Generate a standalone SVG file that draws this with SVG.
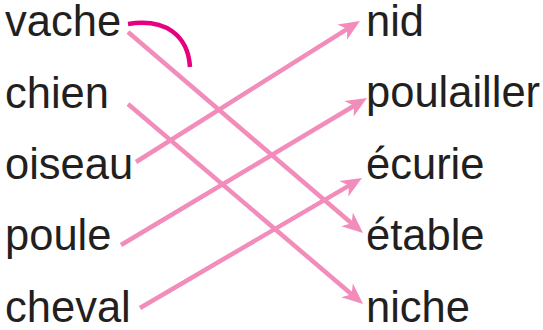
<svg xmlns="http://www.w3.org/2000/svg" width="543" height="330" viewBox="0 0 543 330">
<style>
text{font-family:"Liberation Sans",Arial,sans-serif;font-size:43.5px;fill:#231f20}
.c{stroke:#f28cbb;stroke-width:4.5;fill:none;marker-end:url(#ah)}
.arc{stroke:#e6007e;stroke-width:4.5;fill:none}
</style>
<defs>
<marker id="ah" markerUnits="userSpaceOnUse" markerWidth="40" markerHeight="40" refX="0" refY="0" viewBox="-20 -20 40 40" orient="auto" overflow="visible">
<path d="M12,0 L-9,-9 L-3,0 L-9,9 Z" fill="#f28cbb"/>
</marker>
</defs>
<g id="left">
<g id="n-vache"><text x="5" y="36">vache</text></g>
<g id="n-chien"><text x="5" y="108">chien</text></g>
<g id="n-oiseau"><text x="5" y="179">oiseau</text></g>
<g id="n-poule"><text x="5" y="250">poule</text></g>
<g id="n-cheval"><text x="5" y="322">cheval</text></g>
</g>
<g id="right">
<g id="n-nid"><text x="366" y="36">nid</text></g>
<g id="n-poulailler"><text x="366" y="107">poulailler</text></g>
<g id="n-ecurie"><text x="366" y="179">écurie</text></g>
<g id="n-etable"><text x="366" y="250">étable</text></g>
<g id="n-niche"><text x="366" y="322">niche</text></g>
</g>
<g id="connectors">
<line class="c" x1="128" y1="32" x2="353.9" y2="225.2"/>
<line class="c" x1="128" y1="104" x2="353.9" y2="296.2"/>
<line class="c" x1="136" y1="162" x2="349.8" y2="27.4"/>
<line class="c" x1="121" y1="245" x2="356.7" y2="104.2"/>
<line class="c" x1="140" y1="308" x2="351.6" y2="184.1"/>
<path class="arc" d="M128,24 C165,18 188,35 190,67"/>
</g>
</svg>
